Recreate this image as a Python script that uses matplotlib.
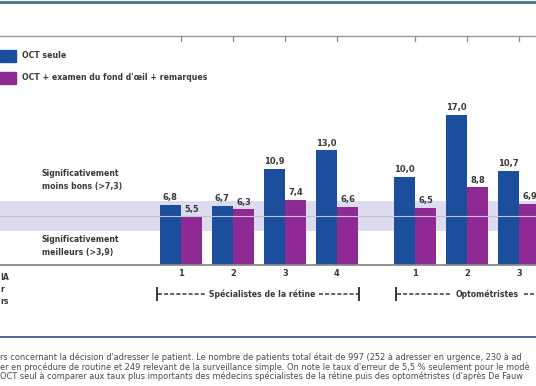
import matplotlib
matplotlib.use("Agg")
from matplotlib import pyplot as plt
from matplotlib import transforms
from matplotlib.lines import Line2D
from matplotlib.patches import Rectangle

# narrow face, closer to the condensed type of the original
plt.rcParams['font.family'] = ['DejaVu Sans']
plt.rcParams['font.stretch'] = 'condensed'

# data
groups = ['1', '2', '3', '4', '1', '2', '3']
xpos = [0, 1, 2, 3, 4.5, 5.5, 6.5]
oct_seule = [6.8, 6.7, 10.9, 13.0, 10.0, 17.0, 10.7]
oct_examen = [5.5, 6.3, 7.4, 6.6, 6.5, 8.8, 6.9]
band_low, band_high = 3.9, 7.3
ref_line = 5.5
legend_labels = ['OCT seule', "OCT + examen du fond d'œil + remarques"]
caption = [
    "rs concernant la décision d'adresser le patient. Le nombre de patients total était de 997 (252 à adresser en urgence, 230 à ad",
    "er en procédure de routine et 249 relevant de la surveillance simple. On note le taux d'erreur de 5,5 % seulement pour le modè",
    "OCT seul à comparer aux taux plus importants des médecins spécialistes de la rétine puis des optométristes (d'après De Fauw",
]

BLUE = '#1b4f9e'
PURPLE = '#8f2a94'
TXT = '#383838'
FS = 6.2

W, H = 536, 386
fig = plt.figure(figsize=(W / 100, H / 100), dpi=100)

def fx(px):
    return px / W

def fy(py):
    return 1 - py / H

# bar axes: baseline at y=265px, 8.83 px per unit, 52 px per group step
base_px = 265
ppu = 8.83
step = 52
x0_px = 181
ax = fig.add_axes([0, fy(base_px), 1, 165 / H])
ax.set_xlim(-x0_px / step, (W - x0_px) / step)
ax.set_ylim(0, 165 / ppu)
ax.axis('off')

ax.axhspan(band_low, band_high, color='#dcdcee', zorder=0, lw=0)

bw = 0.41
for x, v1, v2 in zip(xpos, oct_seule, oct_examen):
    ax.bar(x - bw / 2, v1, width=bw, color=BLUE, zorder=2)
    ax.bar(x + bw / 2, v2, width=bw, color=PURPLE, zorder=2)
    ax.text(x - bw / 2, v1 + 0.3, ('%.1f' % v1).replace('.', ','), ha='center', va='bottom',
            fontsize=FS + 0.5, color=TXT, fontweight='bold')
    ax.text(x + bw / 2, v2 + 0.3, ('%.1f' % v2).replace('.', ','), ha='center', va='bottom',
            fontsize=FS + 0.5, color=TXT, fontweight='bold')

ax.axhline(ref_line, color='#c4c4d4', lw=0.8, zorder=3)
ax.axhline(0, color='#8a8a8a', lw=1.3, zorder=4, clip_on=False)

for x, g in zip(xpos, groups):
    ax.text(x, -8 / ppu, g, ha='center', va='center', fontsize=FS + 0.5, color=TXT, fontweight='bold')

# group brackets: |----- label -----|
yb = fy(294)
t1 = fig.text(fx(262), yb, 'Spécialistes de la rétine', ha='center', va='center',
              fontsize=FS, color=TXT, fontweight='bold')
t2 = fig.text(fx(487), yb, 'Optométristes', ha='center', va='center',
              fontsize=FS, color=TXT, fontweight='bold')
fig.canvas.draw()
r = fig.canvas.get_renderer()
b1 = t1.get_window_extent(r)
b2 = t2.get_window_extent(r)
dash = dict(transform=fig.transFigure, color=TXT, lw=1.1, dashes=(2.6, 1.4))
fig.add_artist(Line2D([fx(158), (b1.x0 - 4) / W], [yb, yb], **dash))
fig.add_artist(Line2D([(b1.x1 + 4) / W, fx(358)], [yb, yb], **dash))
fig.add_artist(Line2D([fx(397), (b2.x0 - 4) / W], [yb, yb], **dash))
fig.add_artist(Line2D([(b2.x1 + 5) / W, 1.0], [yb, yb], **dash))
for px in [157, 359, 396]:
    fig.add_artist(Line2D([fx(px), fx(px)], [fy(288), fy(300)], transform=fig.transFigure,
                          color=TXT, lw=1.4))

# top decorations
fig.add_artist(Line2D([0, 1], [fy(2), fy(2)], transform=fig.transFigure, color='#44778a', lw=2))
fig.add_artist(Line2D([0, 1], [fy(36), fy(36)], transform=fig.transFigure, color='#9a9a9a', lw=1))
trans = transforms.blended_transform_factory(ax.transData, fig.transFigure)
for x in xpos:
    fig.add_artist(Line2D([x, x], [fy(36), fy(41)], transform=trans, color='#8a8a8a', lw=0.9))

# legend
for i, (lab, col) in enumerate(zip(legend_labels, [BLUE, PURPLE])):
    top = 50 + 22 * i
    fig.add_artist(Rectangle((fx(0), fy(top + 12)), fx(16), 12 / H, transform=fig.transFigure,
                             color=col))
    fig.text(fx(22), fy(top + 6), lab, ha='left', va='center', fontsize=FS, color=TXT,
             fontweight='bold')

fig.text(fx(42), fy(180), 'Significativement\nmoins bons (>7,3)', ha='left', va='center',
         fontsize=FS, color=TXT, fontweight='bold', linespacing=1.6)
fig.text(fx(42), fy(246), 'Significativement\nmeilleurs (>3,9)', ha='left', va='center',
         fontsize=FS, color=TXT, fontweight='bold', linespacing=1.6)

for y, s in zip([278, 290, 302], ['IA', 'r', 'rs']):
    fig.text(fx(0), fy(y), s, ha='left', va='center', fontsize=FS, color=TXT, fontweight='bold')

# caption
fig.add_artist(Line2D([0, 1], [fy(337), fy(337)], transform=fig.transFigure, color='#3b5f82', lw=1.3))
for y, s in zip([357, 367, 376], caption):
    fig.text(fx(0), fy(y), s, ha='left', va='center', fontsize=6.6, color='#4a4a4a')

fig.savefig('out.png', dpi=100)
